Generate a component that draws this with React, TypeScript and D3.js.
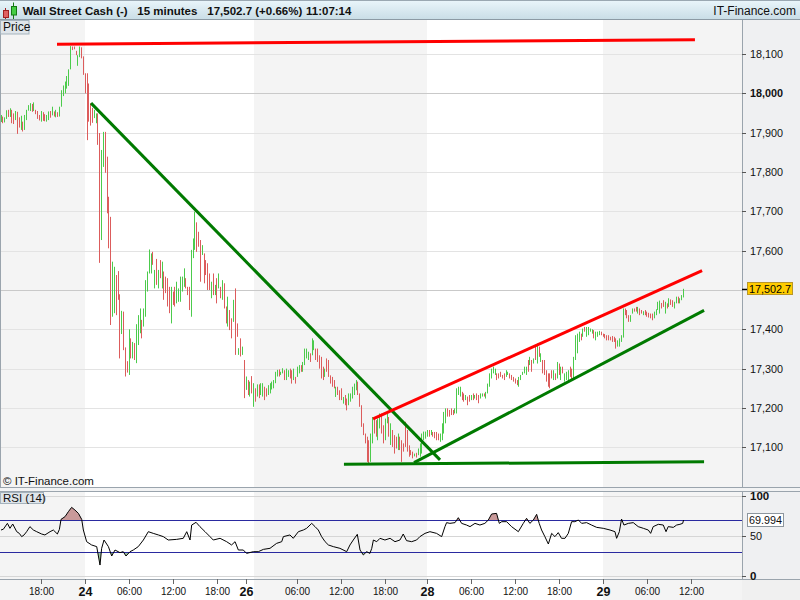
import React from 'react';
import * as d3 from 'd3';

// ---- price bars (15-minute), open and close of each bar; the bar is drawn between them ----
const barOpen = [
17927,17941,17926,17935,17958,17940,17958,17949,17932,17953,17939,17907,17928,17907,17932,17956,17955,17973,17955,17958,
17955,17945,17928,17952,17947,17928,17932,17955,17944,17954,17939,17952,17941,17966,17993,18000,18012,18019,18061,18119,
18119,18108,18070,18092,18117,18094,18051,18051,18025,17975,17963,17937,17924,17949,17899,17627,17813,17902,17839,17737,
17686,17432,17441,17538,17548,17489,17388,17445,17354,17319,17284,17377,17326,17365,17314,17360,17390,17424,17407,17432,
17496,17542,17542,17597,17504,17579,17504,17576,17504,17547,17534,17530,17508,17415,17496,17508,17466,17470,17470,17496,
17508,17530,17508,17508,17432,17581,17602,17672,17648,17627,17589,17593,17576,17568,17542,17479,17542,17487,17530,17504,
17508,17475,17517,17458,17407,17449,17428,17419,17504,17415,17335,17377,17335,17322,17246,17271,17229,17281,17203,17250,
17229,17260,17233,17229,17254,17250,17233,17237,17247,17250,17263,17280,17298,17284,17288,17296,17271,17279,17300,17296,
17271,17279,17279,17288,17309,17292,17309,17326,17322,17339,17334,17347,17351,17351,17334,17330,17305,17279,17326,17322,
17283,17279,17271,17228,17254,17245,17250,17211,17233,17224,17207,17216,17224,17233,17245,17267,17237,17207,17161,17135,
17127,17118,17063,17110,17177,17169,17118,17148,17186,17156,17118,17161,17177,17106,17144,17131,17127,17093,17127,17118,
17110,17165,17144,17105,17093,17089,17077,17086,17080,17076,17084,17118,17122,17127,17144,17131,17139,17139,17139,17135,
17114,17118,17135,17161,17199,17195,17199,17195,17186,17186,17233,17229,17241,17237,17220,17229,17233,17220,17237,17224,
17237,17233,17224,17229,17237,17224,17237,17254,17275,17288,17284,17288,17288,17292,17284,17288,17279,17284,17288,17284,
17279,17275,17271,17254,17271,17284,17288,17284,17322,17309,17322,17313,17356,17313,17356,17317,17322,17322,17296,17288,
17288,17296,17271,17288,17275,17313,17271,17305,17267,17271,17267,17305,17300,17275,17322,17339,17368,17389,17381,17406,
17381,17385,17394,17389,17398,17372,17381,17385,17394,17389,17388,17385,17385,17381,17383,17381,17377,17356,17356,17368,
17379,17453,17449,17436,17419,17440,17453,17457,17440,17453,17449,17436,17449,17445,17442,17440,17440,17428,17436,17449,
17440,17467,17474,17440,17466,17457,17476,17474,17453,17466,17483,17466,17474,17481
];
const barClose = [
17945,17924,17939,17957,17940,17962,17924,17922,17955,17897,17913,17943,17903,17945,17958,17970,17975,17953,17977,17947,
17935,17931,17955,17930,17929,17945,17954,17938,17966,17941,17958,17940,17966,18008,18020,18030,18044,18061,18120,18110,
18112,18097,18097,18119,18089,18047,18000,17881,17928,17918,17925,17958,17949,17869,17569,17856,17902,17798,17695,17606,
17411,17572,17559,17436,17475,17326,17447,17347,17280,17290,17400,17326,17368,17322,17413,17436,17453,17377,17453,17525,
17547,17603,17593,17564,17551,17513,17551,17530,17572,17475,17492,17458,17441,17508,17462,17458,17521,17504,17534,17534,
17555,17504,17487,17449,17602,17631,17699,17597,17610,17521,17614,17517,17538,17500,17500,17521,17487,17513,17466,17542,
17479,17525,17453,17415,17483,17398,17377,17475,17335,17381,17352,17331,17356,17225,17280,17233,17267,17237,17263,17216,
17260,17225,17263,17263,17220,17229,17258,17263,17267,17271,17292,17297,17280,17292,17301,17271,17300,17296,17275,17262,
17300,17262,17305,17309,17292,17317,17351,17351,17343,17317,17377,17372,17322,17317,17300,17275,17271,17300,17292,17279,
17262,17254,17250,17254,17233,17220,17220,17228,17207,17194,17237,17237,17254,17262,17271,17233,17203,17152,17131,17110,
17063,17060,17135,17177,17135,17127,17173,17186,17135,17110,17173,17186,17127,17161,17101,17084,17097,17135,17093,17063,
17089,17101,17089,17076,17080,17072,17084,17074,17097,17110,17135,17140,17140,17144,17127,17144,17127,17123,17118,17118,
17135,17161,17190,17199,17178,17178,17182,17182,17199,17250,17254,17254,17220,17216,17233,17207,17216,17233,17220,17233,
17220,17212,17237,17237,17229,17241,17262,17288,17300,17305,17300,17271,17275,17279,17275,17271,17296,17292,17275,17271,
17267,17262,17258,17279,17284,17292,17305,17305,17292,17330,17292,17326,17322,17364,17330,17339,17288,17284,17267,17254,
17250,17275,17296,17271,17317,17284,17305,17288,17288,17292,17296,17279,17271,17330,17385,17389,17394,17372,17402,17394,
17406,17406,17402,17400,17377,17394,17394,17396,17385,17381,17377,17372,17372,17372,17368,17368,17351,17372,17377,17385,
17453,17436,17428,17419,17436,17453,17445,17445,17457,17436,17440,17446,17436,17432,17430,17428,17423,17445,17451,17470,
17473,17453,17457,17470,17453,17479,17462,17457,17470,17483,17466,17479,17487,17503
];

// ---- RSI (14): bar position and value ----
const rsiIndex = [
0,1.3,3.5,4.9,6.4,8.6,10,11.3,12.6,14,15.8,17.7,19.5,22.2,24,26.8,28.6,30.8,31.9,32.8,
35,36.8,38.6,40.4,42.3,44.1,45,46.8,49.5,52.3,54.1,55,56.3,58.7,60.5,62.3,65,66.8,68.3,70.5,
72.3,75,77.8,80.5,83.2,86,88.7,91.4,96,99.6,101.5,103.3,104.2,106.6,108.7,111.5,114.2,116,119.7,123.3,
126,127.9,129.7,132.4,134.2,137.9,140.6,143.4,147,150.6,153.4,154.3,157.9,159.7,162.5,165.2,167,169.8,171.6,173.4,
175.2,177.1,178.9,181.6,185.2,188.9,190.7,192.5,194.7,196.2,198,199.8,201.6,202.6,203.5,205.3,207.1,209.8,212.6,215.3,
218,219.8,221.6,224.4,227.1,228.9,231.7,234.4,238,240.8,242.6,243.5,245.3,248.1,249.9,251.7,254.4,256.3,259,261.7,
264.4,266.3,268.1,270.8,272.3,273.6,276.3,279,282.7,285.4,287.2,289,290.9,292.7,294.1,295.4,297.2,299.1,300.9,302.7,
304.5,306.3,308.2,310,311.8,313.6,315.5,317.3,320,322.7,325.5,329.1,332.8,335.5,336.4,337.9,339.1,340.4,342.8,345.5,
348.2,351,353.7,355,356.4,359.2,361.9,363.4,364.6,367.4,369.2,371,372.5,373
];
const rsiValue = [
57.5,58.5,65.8,59.6,65,55.4,53.3,49.2,51.3,55.4,61.7,57.5,55.4,52.5,51.3,55.4,57.5,52.5,58.3,70.8,
74.2,80.4,85.8,82.5,78.3,70.8,57.5,42.9,38.8,36.7,13.7,34.6,45,36.7,25,32.5,29.2,30.4,25,30.4,
32.5,36.7,45,55.4,53.3,51.3,49.2,45,45.8,47.1,55.4,45,63.7,67.1,61.7,55.4,49.2,45,47.1,42.9,
38.8,42.9,32.5,32.5,28.3,30.4,30.4,33.3,34.6,40.8,42.9,49.2,51.3,47.1,55.4,57.5,59.6,65.8,61.7,57.5,
49.2,42.9,38.8,36.7,34.6,30.4,38.8,45,52.1,32.5,26.3,30.4,28.3,34.6,45,42.9,47.1,45,47.1,42.9,
45,52.5,44.2,42.9,45,49.2,53.3,55.4,53.3,49.2,61.7,66.7,65.8,66.7,72.9,65.8,63.7,61.7,65.8,63.7,
65.8,70,77.5,78.3,65.8,67.9,67.9,61.7,55.4,65.8,72.1,65.8,70,77.1,65.8,57.5,49.2,40,53.3,49.2,
54.2,47.1,47.1,53.3,67.9,67.9,70,65.8,66.7,63.7,60.8,59.6,57.5,55.4,47.1,55.4,71.2,63.7,65.8,66.7,
61.7,59.6,57.5,53.3,61.7,64.6,63.7,55.4,61.7,60.8,63.7,64.6,65.8,69.994
];

// ---- axes / labels ----
const timeTickIndex = [22, 46, 70, 94, 118, 134, 162, 186, 210, 233, 257, 281, 305, 329, 353, 377];
const timeTickLabel = ['18:00', '24', '06:00', '12:00', '18:00', '26', '06:00', '12:00', '18:00', '28', '06:00', '12:00', '18:00', '29', '06:00', '12:00'];
const timeTickDay = [false, true, false, false, false, true, false, false, false, true, false, false, false, true, false, false];
const shadedFrom = [-2, 138, 329];
const shadedTo = [46, 233, 410];
const priceTicks = [17100, 17200, 17300, 17400, 17500, 17600, 17700, 17800, 17900, 18000, 18100];
const priceBold = [18000];
const priceDarkGrid = [17500, 18000];
const lastPrice = 17502.7;
const lastPriceLabel = '17,502.7';
const rsiGrid = [0, 50, 100];
const rsiBands = [30, 70];
const rsiAxisLabels = [100, 50, 0];
const rsiLastLabel = 69.994;

// drawn trend lines: [bar index, price] -> [bar index, price]
const trendX1 = [30.6, 49.2, 187.4, 203.3, 225.7];
const trendP1 = [18125, 17975, 17057, 17172, 17061];
const trendX2 = [379.2, 239.9, 384.2, 383.1, 384.2];
const trendP2 = [18136, 17068, 17063, 17549.5, 17448];
const trendColor = ['#ff0000', '#007a00', '#007a00', '#ff0000', '#007a00'];

const FONT = 'Arial, "Liberation Sans", Helvetica, sans-serif';
const GREEN = '#4ccb4c';
const RED = '#dc5c5c';

const fmt = d3.format(',');

export default function App() {
  const plotRight = 742;
  const mainTop = 20, mainBottom = 487;
  const rsiTop = 491, rsiBottom = 579;

  const x = d3.scaleLinear().domain([0, 405]).range([1, 1 + 405 * 1.83]);
  const y = d3.scaleLinear().domain([17100, 18100]).range([447.3, 54]);
  const ry = d3.scaleLinear().domain([0, 100]).range([576, 496]);

  const rsiPts = rsiIndex.map((i, k) => ({ i, v: rsiValue[k] }));
  const rsiLine = d3.line<{ i: number; v: number }>().x(d => x(d.i)).y(d => ry(d.v));
  const upperArea = d3.area<{ i: number; v: number }>().x(d => x(d.i)).y0(ry(70)).y1(d => ry(d.v));
  const lowerArea = d3.area<{ i: number; v: number }>().x(d => x(d.i)).y0(ry(30)).y1(d => ry(d.v));

  return (
    <svg width={800} height={600} style={{ position: 'absolute', left: 0, top: 0, display: 'block' }} fontFamily={FONT}>
      <defs>
        <linearGradient id="hdr" x1="0" y1="0" x2="0" y2="1">
          <stop offset="0" stopColor="#eaf6fb" />
          <stop offset="1" stopColor="#c9dde6" />
        </linearGradient>
        <clipPath id="mainClip"><rect x={0} y={mainTop} width={plotRight} height={mainBottom - mainTop} /></clipPath>
        <clipPath id="above70"><rect x={0} y={rsiTop} width={plotRight} height={ry(70) - rsiTop} /></clipPath>
        <clipPath id="below30"><rect x={0} y={ry(30)} width={plotRight} height={rsiBottom - ry(30)} /></clipPath>
      </defs>
      <rect x={0} y={0} width={800} height={600} fill="#ffffff" />

      {/* day shading */}
      {shadedFrom.map((s, k) => {
        const x0 = Math.max(0, Math.round(x(s)));
        const x1 = Math.min(plotRight, Math.round(x(shadedTo[k])));
        return <rect key={'sh' + k} x={x0} y={mainTop} width={x1 - x0} height={600 - mainTop} fill="#f4f4f4" />;
      })}

      {/* main grid */}
      {priceTicks.map(p => (
        <line key={'g' + p} x1={0} x2={plotRight} y1={Math.round(y(p)) + 0.5} y2={Math.round(y(p)) + 0.5}
          stroke={priceDarkGrid.includes(p) ? '#c9c9c9' : '#e3e3e3'} strokeWidth={1} />
      ))}

      {/* bars */}
      <g clipPath="url(#mainClip)">
        {barOpen.map((o, i) => {
          const c = barClose[i];
          const hi = Math.max(o, c), lo = Math.min(o, c);
          const y0 = y(hi), y1 = y(lo);
          return <rect key={'b' + i} x={Math.floor(x(i))} y={y0} width={1} height={Math.max(1, y1 - y0)} fill={c >= o ? GREEN : RED} />;
        })}
        {trendX1.map((tx, k) => (
          <line key={'t' + k} x1={x(tx)} y1={y(trendP1[k])} x2={x(trendX2[k])} y2={y(trendP2[k])}
            stroke={trendColor[k]} strokeWidth={3} strokeLinecap="butt" />
        ))}
      </g>

      {/* price axis panel */}
      <rect x={plotRight} y={mainTop} width={800 - plotRight} height={mainBottom - mainTop} fill="#eff0f2" />
      <line x1={plotRight + 0.5} x2={plotRight + 0.5} y1={mainTop} y2={mainBottom} stroke="#9aa4ad" />
      {priceTicks.filter(p => Math.abs(y(p) - y(lastPrice)) > 10).map(p => (
        <g key={'pl' + p}>
          <line x1={plotRight} x2={plotRight + 4} y1={Math.round(y(p)) + 0.5} y2={Math.round(y(p)) + 0.5} stroke="#555" />
          <text x={750} y={y(p)} dy="0.36em" fontSize={10.8} fontWeight={priceBold.includes(p) ? 'bold' : 'normal'} fill="#111">{fmt(p)}</text>
        </g>
      ))}
      <line x1={plotRight} x2={plotRight + 5} y1={Math.round(y(lastPrice)) + 0.5} y2={Math.round(y(lastPrice)) + 0.5} stroke="#000" strokeWidth={1.5} />
      <rect x={747.5} y={Math.round(y(lastPrice)) - 6.5} width={45} height={12} fill="#ffcc00" stroke="#b8962a" />
      <text x={749} y={y(lastPrice)} dy="0.36em" fontSize={10.8} fill="#000">{lastPriceLabel}</text>

      {/* main panel borders */}
      <line x1={0.5} x2={0.5} y1={mainTop} y2={mainBottom} stroke="#9aa4ad" />
      <line x1={0} x2={800} y1={mainBottom + 0.5} y2={mainBottom + 0.5} stroke="#9aa4ad" />
      <rect x={0} y={mainBottom + 1} width={800} height={rsiTop - mainBottom - 1} fill="#f2f3f4" />

      {/* Price label */}
      <rect x={0.5} y={20.5} width={28.5} height={13.5} fill="#dfe5ea" stroke="#a5b3bd" />
      <text x={3} y={31} fontSize={12} fill="#111">Price</text>
      <text x={3} y={485} fontSize={11.5} fill="#111">© IT-Finance.com</text>

      {/* RSI panel */}
      {rsiGrid.map(v => (
        <line key={'rg' + v} x1={0} x2={plotRight} y1={Math.round(ry(v)) + 0.5} y2={Math.round(ry(v)) + 0.5} stroke="#d6d6d6" />
      ))}
      <path d={upperArea(rsiPts) || ''} fill="#c99a9a" clipPath="url(#above70)" />
      <path d={lowerArea(rsiPts) || ''} fill="#9fc79f" clipPath="url(#below30)" />
      {rsiBands.map(v => (
        <line key={'rb' + v} x1={0} x2={plotRight} y1={Math.round(ry(v)) + 0.5} y2={Math.round(ry(v)) + 0.5} stroke="#2a2aa0" />
      ))}
      <path d={rsiLine(rsiPts) || ''} fill="none" stroke="#000" strokeWidth={1} />
      <line x1={0} x2={800} y1={rsiTop + 0.5} y2={rsiTop + 0.5} stroke="#9aa4ad" />
      <line x1={0} x2={800} y1={rsiBottom + 0.5} y2={rsiBottom + 0.5} stroke="#9aa4ad" />
      <rect x={plotRight} y={rsiTop + 1} width={800 - plotRight} height={rsiBottom - rsiTop - 1} fill="#eff0f2" />
      <line x1={plotRight + 0.5} x2={plotRight + 0.5} y1={rsiTop} y2={rsiBottom} stroke="#9aa4ad" />
      {rsiAxisLabels.map(v => (
        <g key={'rl' + v}>
          <line x1={plotRight} x2={plotRight + 4} y1={Math.round(ry(v)) + 0.5} y2={Math.round(ry(v)) + 0.5} stroke="#555" />
          <text x={750} y={ry(v)} dy="0.36em" fontSize={v === 50 ? 10.8 : 11.5} fontWeight={v === 50 ? 'normal' : 'bold'} fill="#111">{v}</text>
        </g>
      ))}
      <rect x={747.5} y={Math.round(ry(rsiLastLabel)) - 6.5} width={36} height={13} fill="#ffffff" stroke="#8d969e" />
      <text x={749} y={ry(rsiLastLabel)} dy="0.36em" fontSize={10.8} fill="#111">{rsiLastLabel.toFixed(3)}</text>
      <rect x={0.5} y={492.5} width={43} height={11} fill="#dfe5ea" stroke="#a5b3bd" />
      <text x={3} y={502} fontSize={11.5} fill="#111">RSI (14)</text>

      {/* time axis */}
      <rect x={plotRight} y={rsiBottom + 1} width={800 - plotRight} height={600 - rsiBottom} fill="#f0f0f0" />
      {timeTickIndex.map((ti, k) => {
        const tx = Math.round(x(ti)) + 0.5;
        return (
          <g key={'tt' + k}>
            <line x1={tx} x2={tx} y1={rsiBottom} y2={rsiBottom + 5} stroke="#666" />
            <text x={tx} y={timeTickDay[k] ? 596 : 595} textAnchor="middle" fontSize={timeTickDay[k] ? 12.5 : 10}
              fontWeight={timeTickDay[k] ? 'bold' : 'normal'} fill="#111">{timeTickLabel[k]}</text>
          </g>
        );
      })}

      {/* header */}
      <rect x={0} y={0} width={800} height={19.5} fill="url(#hdr)" />
      <line x1={0} x2={800} y1={0.5} y2={0.5} stroke="#9aa8b2" />
      <line x1={0} x2={800} y1={19.5} y2={19.5} stroke="#8c9aa4" />
      <line x1={5.5} x2={5.5} y1={8} y2={19} stroke="#a02020" />
      <rect x={3.5} y={10.5} width={5} height={7} fill="#e06060" stroke="#a02020" />
      <line x1={13.5} x2={13.5} y1={2.5} y2={19} stroke="#157a15" />
      <rect x={11.5} y={6.5} width={5} height={8.5} fill="#44cc44" stroke="#157a15" />
      <text x={22.7} y={15} fontSize={11.5} fontWeight="bold" fill="#111">Wall Street Cash (-)</text>
      <text x={137.3} y={15} fontSize={11.5} fontWeight="bold" fill="#111">15 minutes</text>
      <text x={207.3} y={15} fontSize={11.5} fontWeight="bold" fill="#111">17,502.7 (+0.66%)</text>
      <text x={306} y={15} fontSize={11.5} fontWeight="bold" fill="#111">11:07:14</text>
      <text x={796} y={15} textAnchor="end" fontSize={12} fill="#111">IT-Finance.com</text>
    </svg>
  );
}
